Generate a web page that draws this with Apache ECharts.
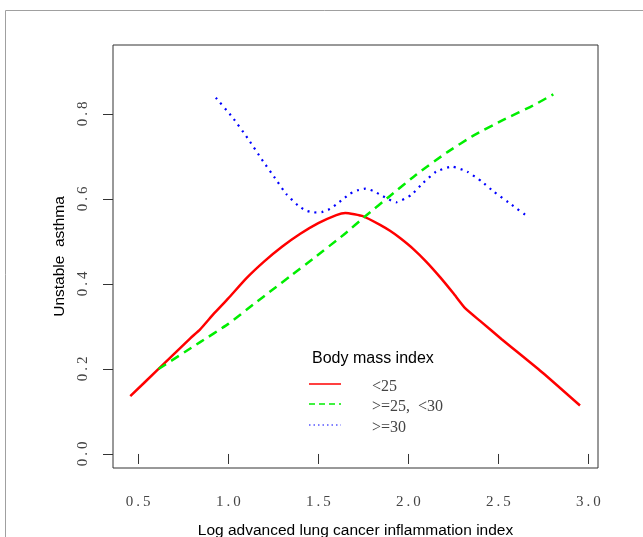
<!DOCTYPE html>
<html><head><meta charset="utf-8">
<script src="https://cdn.jsdelivr.net/npm/echarts@6/dist/echarts.min.js"></script>
<style>html,body{margin:0;padding:0;background:#fff;overflow:hidden}#c{width:643px;height:537px}</style>
</head><body><div id="c"></div>
<script>
// x values: log ALI, y values: unstable asthma probability
const redX   = [0.456,0.613,0.789,0.844,0.92,1.0,1.1,1.2,1.3,1.4,1.5,1.6,1.65,1.75,1.843,1.898,1.954,2.028,2.1,2.176,2.25,2.315,2.398,2.518,2.749,2.953];
const redY   = [0.136,0.200,0.272,0.293,0.330,0.366,0.413,0.453,0.488,0.518,0.543,0.562,0.567,0.559,0.539,0.525,0.508,0.482,0.452,0.416,0.378,0.343,0.313,0.270,0.190,0.114];
const greenX = [0.613,0.844,1.0,1.14,1.251,1.343,1.473,1.639,1.769,1.898,2.047,2.213,2.361,2.527,2.694,2.805];
const greenY = [0.200,0.263,0.306,0.352,0.388,0.418,0.460,0.515,0.562,0.607,0.658,0.709,0.749,0.786,0.820,0.846];
const blueX  = [0.931,1.023,1.107,1.186,1.266,1.321,1.386,1.428,1.473,1.519,1.564,1.6,1.639,1.676,1.717,1.763,1.808,1.848,1.891,1.932,2.015,2.083,2.154,2.241,2.327,2.407,2.477,2.555,2.67];
const blueY  = [0.838,0.792,0.743,0.693,0.645,0.612,0.585,0.573,0.568,0.569,0.576,0.587,0.600,0.612,0.620,0.624,0.618,0.609,0.599,0.592,0.609,0.638,0.664,0.676,0.664,0.641,0.616,0.592,0.556];
const xTicks = [0.5, 1.0, 1.5, 2.0, 2.5, 3.0];
const yTicks = [0.0, 0.2, 0.4, 0.6, 0.8];
const legendTitle = 'Body mass index';
const seriesNames = ['<25', '>=25,  <30', '>=30'];
const xTitle = 'Log advanced lung cancer inflammation index';
const yTitle = 'Unstable  asthma';

const zip = (a, b) => a.map((v, i) => [v, b[i]]);
const spaced = v => v.toFixed(1).split('').join('\u2009');

const chart = echarts.init(document.getElementById('c'), null, {renderer: 'canvas'});
const serif = 'Liberation Serif';
const sans = 'Liberation Sans';
chart.setOption({
  animation: false,
  backgroundColor: '#fff',
  grid: {left: 113, right: 45, top: 45, bottom: 69, show: true, borderColor: '#333', borderWidth: 1,
         backgroundColor: 'transparent', outerBoundsMode: 'none', containLabel: false},
  xAxis: {
    type: 'value', min: 0.36, max: 3.053,
    axisLine: {show: false}, splitLine: {show: false},
    axisTick: {show: true, length: 10, lineStyle: {color: '#333'}, customValues: xTicks},
    axisLabel: {margin: 27, fontFamily: serif, fontSize: 15, color: '#444', customValues: xTicks, formatter: v => spaced(v)},
    name: xTitle, nameLocation: 'middle', nameGap: 55,
    nameTextStyle: {fontFamily: sans, fontSize: 15.5, color: '#000'}
  },
  yAxis: {
    type: 'value', min: -0.033, max: 0.962,
    axisLine: {show: false}, splitLine: {show: false},
    axisTick: {show: true, length: 10, lineStyle: {color: '#333'}, customValues: yTicks},
    axisLabel: {margin: 22, rotate: 90, fontFamily: serif, fontSize: 15, color: '#444', customValues: yTicks, formatter: v => spaced(v)},
    name: yTitle, nameLocation: 'middle', nameGap: 43, nameRotate: 90,
    nameTextStyle: {fontFamily: sans, fontSize: 15.5, color: '#000'}
  },
  series: [
    {name: seriesNames[0], type: 'line', data: zip(redX, redY), showSymbol: false, smooth: 0.15,
     lineStyle: {color: '#ff0000', width: 2.5}},
    {name: seriesNames[1], type: 'line', data: zip(greenX, greenY), showSymbol: false, smooth: 0.15,
     lineStyle: {color: '#00ee00', width: 2.5, type: [9, 6]}},
    {name: seriesNames[2], type: 'line', data: zip(blueX, blueY), showSymbol: false, smooth: 0.15,
     lineStyle: {color: '#0000ff', width: 2.2, type: [2, 5]}}
  ],
  graphic: [
    {type: 'rect', shape: {x: 5.5, y: 10.5, width: 800, height: 800}, style: {fill: 'none', stroke: '#a0a0a0', lineWidth: 1}, silent: true, z: -1},
    {type: 'text', x: 312, y: 359, style: {text: legendTitle, font: '16px "Liberation Sans"', fill: '#000', verticalAlign: 'middle'}},
    {type: 'line', shape: {x1: 309, y1: 384, x2: 341, y2: 384}, style: {stroke: '#ff0000', lineWidth: 1.5}},
    {type: 'line', shape: {x1: 309, y1: 404, x2: 341, y2: 404}, style: {stroke: '#00ee00', lineWidth: 1.5, lineDash: [6, 4]}},
    {type: 'line', shape: {x1: 309, y1: 425, x2: 341, y2: 425}, style: {stroke: '#0000ff', lineWidth: 1.2, lineDash: [1.5, 3]}},
    {type: 'text', x: 372, y: 387, style: {text: seriesNames[0], font: '16px "Liberation Serif"', fill: '#444', verticalAlign: 'middle'}},
    {type: 'text', x: 372, y: 407, style: {text: seriesNames[1], font: '16px "Liberation Serif"', fill: '#444', verticalAlign: 'middle'}},
    {type: 'text', x: 372, y: 428, style: {text: seriesNames[2], font: '16px "Liberation Serif"', fill: '#444', verticalAlign: 'middle'}}
  ]
});
</script></body></html>
